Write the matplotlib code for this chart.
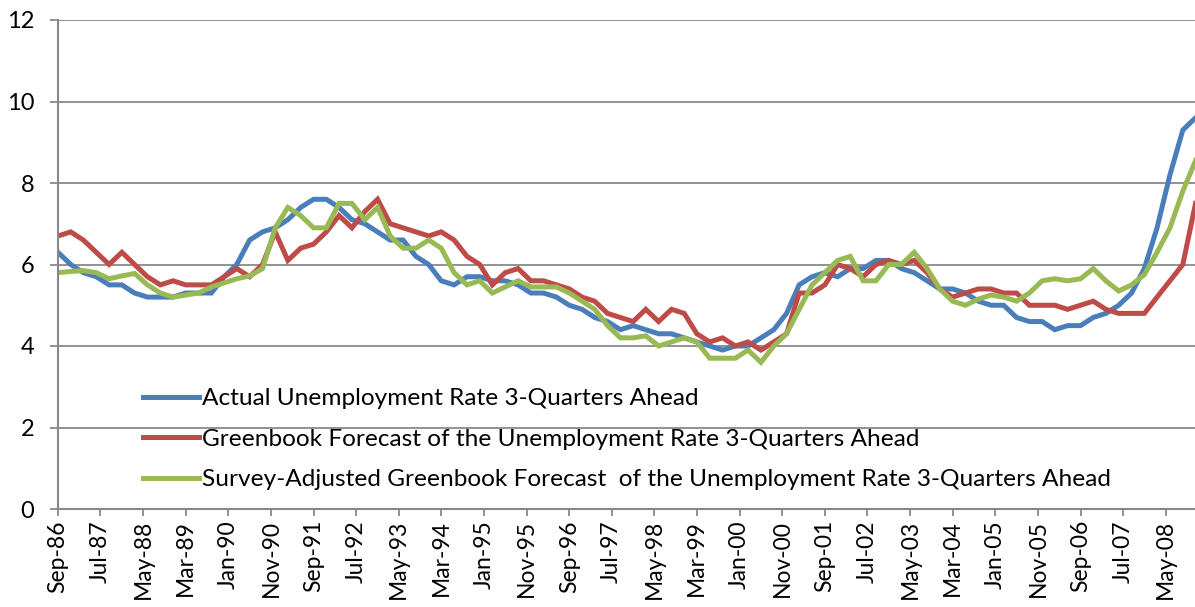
import matplotlib
matplotlib.use("Agg")
import matplotlib.pyplot as plt
import pandas as pd

# ---- data (quarterly, Sep-86 .. Dec-08) ----
start_month = "1986-09-01"
actual = [6.3, 6.0, 5.8, 5.7, 5.5, 5.5, 5.3, 5.2, 5.2, 5.2,
          5.3, 5.3, 5.3, 5.7, 6.0, 6.6, 6.8, 6.9, 7.1, 7.4,
          7.6, 7.6, 7.4, 7.1, 7.0, 6.8, 6.6, 6.6, 6.2, 6.0,
          5.6, 5.5, 5.7, 5.7, 5.6, 5.6, 5.5, 5.3, 5.3, 5.2,
          5.0, 4.9, 4.7, 4.6, 4.4, 4.5, 4.4, 4.3, 4.3, 4.2,
          4.1, 4.0, 3.9, 4.0, 4.0, 4.2, 4.4, 4.8, 5.5, 5.7,
          5.8, 5.7, 5.9, 5.9, 6.1, 6.1, 5.9, 5.8, 5.6, 5.4,
          5.4, 5.3, 5.1, 5.0, 5.0, 4.7, 4.6, 4.6, 4.4, 4.5,
          4.5, 4.7, 4.8, 5.0, 5.3, 5.9, 6.9, 8.2, 9.3, 9.6]
greenbook = [6.7, 6.8, 6.6, 6.3, 6.0, 6.3, 6.0, 5.7, 5.5, 5.6,
             5.5, 5.5, 5.5, 5.7, 5.9, 5.7, 6.0, 6.8, 6.1, 6.4,
             6.5, 6.8, 7.2, 6.9, 7.3, 7.6, 7.0, 6.9, 6.8, 6.7,
             6.8, 6.6, 6.2, 6.0, 5.5, 5.8, 5.9, 5.6, 5.6, 5.5,
             5.4, 5.2, 5.1, 4.8, 4.7, 4.6, 4.9, 4.6, 4.9, 4.8,
             4.3, 4.1, 4.2, 4.0, 4.1, 3.9, 4.1, 4.3, 5.3, 5.3,
             5.5, 6.0, 5.9, 5.7, 6.0, 6.1, 6.0, 6.1, 5.8, 5.4,
             5.2, 5.3, 5.4, 5.4, 5.3, 5.3, 5.0, 5.0, 5.0, 4.9,
             5.0, 5.1, 4.9, 4.8, 4.8, 4.8, 5.2, 5.6, 6.0, 7.5]
survey_adj = [5.8, 5.83, 5.85, 5.8, 5.65, 5.72, 5.78, 5.5, 5.3, 5.2,
              5.25, 5.3, 5.45, 5.55, 5.65, 5.72, 5.9, 6.9, 7.4, 7.2,
              6.9, 6.9, 7.5, 7.5, 7.1, 7.4, 6.7, 6.4, 6.4, 6.6,
              6.4, 5.8, 5.5, 5.6, 5.3, 5.45, 5.6, 5.45, 5.45, 5.45,
              5.3, 5.1, 4.9, 4.5, 4.2, 4.2, 4.25, 4.0, 4.1, 4.2,
              4.1, 3.7, 3.7, 3.7, 3.9, 3.6, 4.0, 4.3, 4.9, 5.5,
              5.8, 6.1, 6.2, 5.6, 5.6, 6.0, 6.0, 6.3, 5.9, 5.4,
              5.1, 5.0, 5.15, 5.25, 5.2, 5.1, 5.3, 5.6, 5.65, 5.6,
              5.65, 5.9, 5.6, 5.35, 5.5, 5.75, 6.3, 6.9, 7.8, 8.55]
series_labels = [
    "Actual Unemployment Rate 3-Quarters Ahead",
    "Greenbook Forecast of the Unemployment Rate 3-Quarters Ahead",
    "Survey-Adjusted Greenbook Forecast  of the Unemployment Rate 3-Quarters Ahead",
]
tick_labels = ["Sep-86", "Jul-87", "May-88", "Mar-89", "Jan-90", "Nov-90",
               "Sep-91", "Jul-92", "May-93", "Mar-94", "Jan-95", "Nov-95",
               "Sep-96", "Jul-97", "May-98", "Mar-99", "Jan-00", "Nov-00",
               "Sep-01", "Jul-02", "May-03", "Mar-04", "Jan-05", "Nov-05",
               "Sep-06", "Jul-07", "May-08"]
y_ticks = [0, 2, 4, 6, 8, 10, 12]

# ---- style ----
colors = ["#4A7EBB", "#BE4B48", "#98B954"]
grid_c = "#898989"
FONT = "Lato"

dates = pd.date_range(start_month, periods=len(actual), freq="3MS")
tick_pos = pd.to_datetime(tick_labels, format="%b-%y")

W, H = 1195, 607
fig = plt.figure(figsize=(W / 100, H / 100), dpi=100)
ax = fig.add_axes([58 / W, (H - 509) / H, (1195 - 58) / W, (509 - 20) / H])

for vals, c, lab in zip([actual, greenbook, survey_adj], colors, series_labels):
    ax.plot(dates, vals, color=c, lw=3.6, label=lab, solid_joinstyle="miter",
            clip_on=True)

ax.set_ylim(0, 12)
ax.set_xlim(pd.Timestamp(start_month), pd.Timestamp("2008-11-27"))
ax.set_yticks(y_ticks)
ax.set_yticklabels([str(v) for v in y_ticks], fontsize=17, family=FONT)
ax.set_xticks(tick_pos)
ax.set_xticklabels(tick_labels, rotation=90, fontsize=16.5, family=FONT)

ax.grid(axis="y", color=grid_c, lw=1.3)
ax.set_axisbelow(True)
for s in ["top", "right"]:
    ax.spines[s].set_visible(False)
for s in ["left", "bottom"]:
    ax.spines[s].set_color(grid_c)
    ax.spines[s].set_linewidth(1.5)
ax.tick_params(axis="y", direction="out", length=6, width=1.3, color=grid_c, pad=11)
ax.tick_params(axis="x", direction="out", length=5, width=1.3, color=grid_c, pad=3)

leg = ax.legend(loc="upper left", bbox_to_anchor=(143 / W, (H - 388) / H),
                bbox_transform=fig.transFigure, frameon=False,
                prop={"family": FONT, "size": 17.6}, handlelength=2.3,
                handletextpad=0.12, labelspacing=0.80, borderaxespad=0,
                borderpad=0)
for line in leg.get_lines():
    line.set_linewidth(3.6)

fig.savefig("out.png", dpi=100)
